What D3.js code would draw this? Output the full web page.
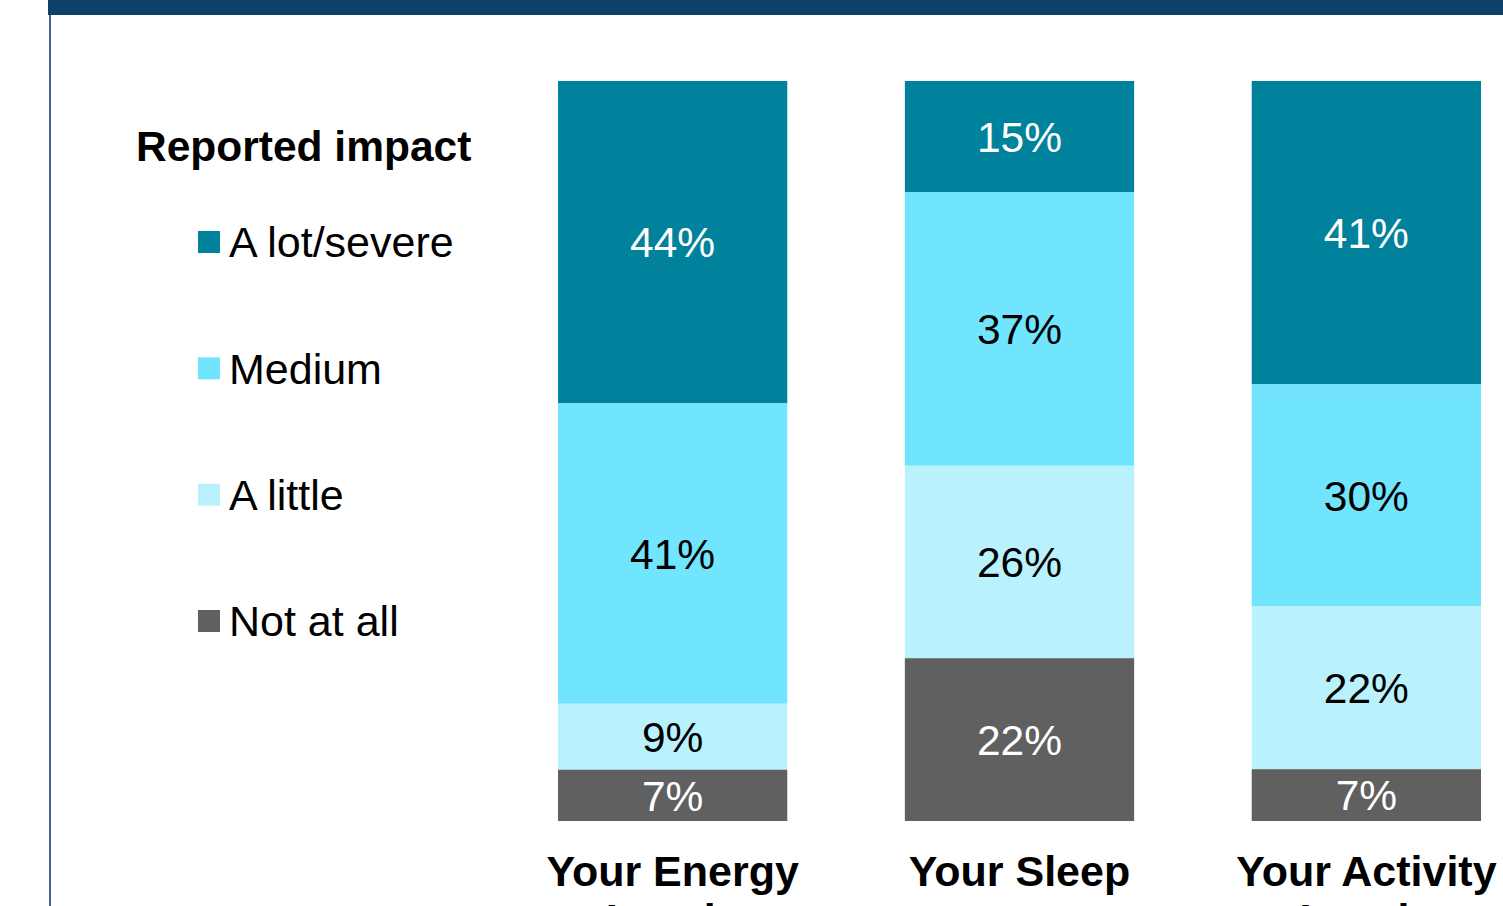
<!DOCTYPE html>
<html>
<head>
<meta charset="utf-8">
<script src="https://cdn.jsdelivr.net/npm/d3@7"></script>
<style>
  html, body { margin: 0; padding: 0; background: #fff; overflow: hidden; }
  svg { display: block; font-family: "Liberation Sans", Arial, sans-serif; }
</style>
</head>
<body>
<div id="chart"></div>
<script>
// Reported impact by area - stacked to 100%
const categories = ['Your Energy Levels', 'Your Sleep', 'Your Activity Levels'];
const seriesKeys = ['A lot/severe', 'Medium', 'A little', 'Not at all'];
const alotValues = [44, 15, 41];
const mediumValues = [41, 37, 30];
const littleValues = [9, 26, 22];
const notValues = [7, 22, 7];
const seriesColors = ['#00819c', '#71e5fd', '#b9f2fd', '#606060'];
const labelColors = ['#ffffff', '#000000', '#000000', '#ffffff'];

const width = 1503;
const height = 906;
const barTop = 81;
const barBottom = 821;

const rows = categories.map((c, i) => ({
  category: c,
  'A lot/severe': alotValues[i],
  'Medium': mediumValues[i],
  'A little': littleValues[i],
  'Not at all': notValues[i]
}));

const svg = d3.select('#chart')
  .append('svg')
  .attr('width', width)
  .attr('height', height);

// Header band and left rule
svg.append('rect')
  .attr('x', 48).attr('y', 0)
  .attr('width', width - 48).attr('height', 15)
  .attr('fill', '#0e4068');
svg.append('rect')
  .attr('x', 49).attr('y', 15)
  .attr('width', 2).attr('height', height - 15)
  .attr('fill', '#44629c');

const x = d3.scaleBand()
  .domain(categories)
  .range([558, 1481])
  .paddingInner(0.339)
  .paddingOuter(0);

// stacking from the top: first series at top
const y = d3.scaleLinear().domain([0, 1]).range([barTop, barBottom]);

const stack = d3.stack()
  .keys(seriesKeys)
  .offset(d3.stackOffsetExpand);
const stacked = stack(rows);

const color = d3.scaleOrdinal().domain(seriesKeys).range(seriesColors);
const labelColor = d3.scaleOrdinal().domain(seriesKeys).range(labelColors);

const layers = svg.selectAll('.layer')
  .data(stacked)
  .join('g')
  .attr('class', 'layer');

layers.selectAll('rect')
  .data(d => d.map(p => ({ key: d.key, p })))
  .join('rect')
  .attr('x', d => x(d.p.data.category))
  .attr('y', d => y(d.p[0]))
  .attr('width', x.bandwidth())
  .attr('height', d => y(d.p[1]) - y(d.p[0]))
  .attr('fill', d => color(d.key));

layers.selectAll('text')
  .data(d => d.map(p => ({ key: d.key, p })))
  .join('text')
  .attr('x', d => x(d.p.data.category) + x.bandwidth() / 2)
  .attr('y', d => (y(d.p[0]) + y(d.p[1])) / 2)
  .attr('dy', '0.36em')
  .attr('text-anchor', 'middle')
  .style('font-size', '42.5px')
  .style('fill', d => labelColor(d.key))
  .text(d => `${d.p.data[d.key]}%`);

// Category labels (second line falls below the frame)
const catLabels = svg.selectAll('.cat-label')
  .data(categories)
  .join('text')
  .attr('class', 'cat-label')
  .attr('x', d => x(d) + x.bandwidth() / 2)
  .attr('y', 886)
  .attr('text-anchor', 'middle')
  .style('font-size', '43px')
  .style('font-weight', 'bold')
  .style('fill', '#000');

catLabels.each(function (d) {
  const words = d.split(' ');
  const first = words.slice(0, 2).join(' ');
  const rest = words.slice(2).join(' ');
  const t = d3.select(this);
  t.append('tspan').attr('x', t.attr('x')).text(first);
  if (rest) t.append('tspan').attr('x', t.attr('x')).attr('dy', 48).text(rest);
});

// Legend
svg.append('text')
  .attr('x', 136)
  .attr('y', 161)
  .style('font-size', '42.5px')
  .style('font-weight', 'bold')
  .text('Reported impact');

const legendY = d3.scalePoint().domain(seriesKeys).range([242, 621]);

const legend = svg.selectAll('.legend-item')
  .data(seriesKeys)
  .join('g')
  .attr('class', 'legend-item')
  .attr('transform', d => `translate(198, ${legendY(d)})`);

legend.append('rect')
  .attr('x', 0).attr('y', -11)
  .attr('width', 22).attr('height', 22)
  .attr('fill', d => color(d));

legend.append('text')
  .attr('x', 31)
  .attr('y', 0)
  .attr('dy', '0.36em')
  .style('font-size', '43px')
  .text(d => d);
</script>
</body>
</html>
